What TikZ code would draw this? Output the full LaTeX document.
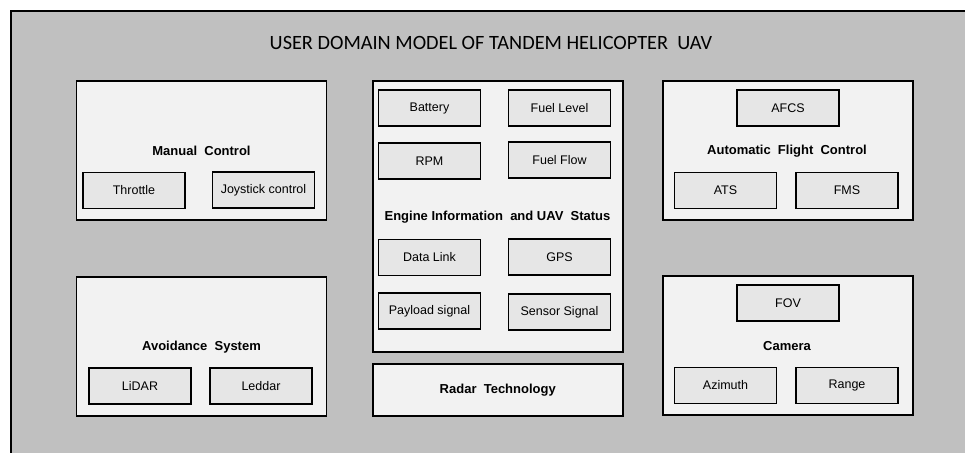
\documentclass[tikz,border=0pt]{standalone}
\usepackage{fontspec}
\setmainfont{Liberation Sans}
\newfontfamily\titlefont{Carlito}
\definecolor{framegray}{HTML}{C0C0C0}
\definecolor{groupfill}{HTML}{F2F2F2}
\definecolor{itemfill}{HTML}{E6E6E6}
\begin{document}
\begin{tikzpicture}
[x=1pt, y=-1pt,
group/.style={draw, fill=groupfill, line width=1.6pt, minimum width=250pt, minimum height=139pt, inner sep=0pt},
item/.style={draw, fill=itemfill, line width=1.5pt, minimum width=102pt, minimum height=36pt, inner sep=0pt, font=\fontsize{12.5}{14}\selectfont},
caption/.style={font=\fontsize{13}{15}\selectfont\bfseries}]

\useasboundingbox (0,0) rectangle (965,452);
\clip (0,0) rectangle (965,452);
\draw [fill=framegray, line width=1.2pt] (11,11) rectangle (980,470);
\node (title) at (491,43) {\titlefont\fontsize{20.3}{24}\selectfont USER DOMAIN MODEL OF TANDEM HELICOPTER~ UAV};

\node [group] (mc) at (201.5,150.25) {};
\node [caption] (mct) at (201.5,151) {Manual~ Control};
\node [item] (mc1) at (134,190.4) {Throttle};
\node [item] (mc2) at (263.5,190) {Joystick control};

\node [group] (as) at (201.5,346.25) {};
\node [caption] (ast) at (201.5,347) {Avoidance~ System};
\node [item] (as1) at (140,386) {LiDAR};
\node [item] (as2) at (261,386) {Leddar};

\node [group, minimum height=271pt] (ei) at (497.75,216.25) {};
\node [caption] (eit) at (497.5,217) {Engine Information~ and UAV~ Status};
\node [item] (ei1) at (429.5,108) {Battery};
\node [item] (ei2) at (559.5,108) {Fuel Level};
\node [item] (ei3) at (429.5,161) {RPM};
\node [item] (ei4) at (559.5,160) {Fuel Flow};
\node [item] (ei5) at (429.5,257.5) {Data Link};
\node [item] (ei6) at (559.5,257) {GPS};
\node [item] (ei7) at (429.5,311) {Payload signal};
\node [item] (ei8) at (559.5,312) {Sensor Signal};

\node [group, minimum height=52pt, caption] (rt) at (497.75,389.75) {Radar~ Technology};

\node [group] (af) at (787.75,150.25) {};
\node [caption] (aft) at (787,151) {Automatic~ Flight~ Control};
\node [item] (af1) at (788,108) {AFCS};
\node [item] (af2) at (725.5,190.5) {ATS};
\node [item] (af3) at (847,190.5) {FMS};

\node [group] (ca) at (787.75,345.75) {};
\node [caption] (cat) at (787,346) {Camera};
\node [item] (ca1) at (788,303) {FOV};
\node [item] (ca2) at (725.5,385.5) {Azimuth};
\node [item] (ca3) at (847,385.5) {Range};
\end{tikzpicture}
\end{document}
